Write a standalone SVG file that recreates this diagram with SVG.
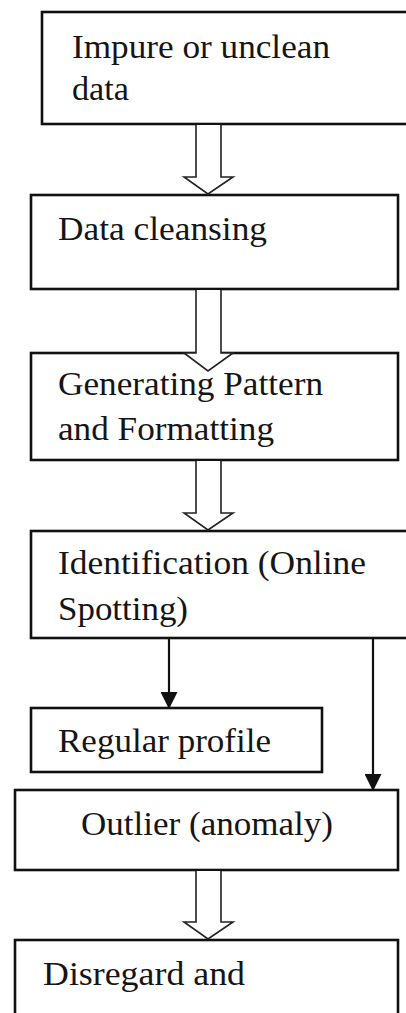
<svg xmlns="http://www.w3.org/2000/svg" width="406" height="1013" viewBox="0 0 406 1013">
<style>
.box{fill:#fff;stroke:#111;stroke-width:2.6}
.t{font-family:"Liberation Serif","Times New Roman","DejaVu Serif",serif;font-size:34px;fill:#151515}
.blk{fill:#fff;stroke:#222;stroke-width:1.6;stroke-linejoin:miter}
.ln{stroke:#111;stroke-width:2.2;fill:none}
</style>
<defs>
<marker id="tri" markerWidth="18" markerHeight="17" refX="17" refY="9" orient="auto" markerUnits="userSpaceOnUse" viewBox="0 0 18 18">
<path d="M0,0 L18,9 L0,18 Z" fill="#111"/>
</marker>
</defs>
<g id="n1"><rect class="box" x="42" y="12" width="370" height="112"/>
<text class="t" x="72" y="58" textLength="258" lengthAdjust="spacingAndGlyphs">Impure or unclean</text>
<text class="t" x="72" y="100" textLength="57" lengthAdjust="spacingAndGlyphs">data</text></g>
<g id="n2"><rect class="box" x="31" y="195" width="367" height="94"/>
<text class="t" x="58" y="240" textLength="209" lengthAdjust="spacingAndGlyphs">Data cleansing</text></g>
<g id="n3"><rect class="box" x="31" y="353" width="367" height="107"/>
<text class="t" x="58" y="395" textLength="265" lengthAdjust="spacingAndGlyphs">Generating Pattern</text>
<text class="t" x="58" y="440" textLength="216" lengthAdjust="spacingAndGlyphs">and Formatting</text></g>
<g id="n4"><rect class="box" x="31" y="531" width="381" height="107"/>
<text class="t" x="58" y="574" textLength="308" lengthAdjust="spacingAndGlyphs">Identification (Online</text>
<text class="t" x="58" y="620" textLength="130" lengthAdjust="spacingAndGlyphs">Spotting)</text></g>
<g id="n5"><rect class="box" x="31" y="708" width="291" height="64"/>
<text class="t" x="58" y="752" textLength="213" lengthAdjust="spacingAndGlyphs">Regular profile</text></g>
<g id="n6"><rect class="box" x="15" y="790" width="383" height="80"/>
<text class="t" x="81" y="835" textLength="252" lengthAdjust="spacingAndGlyphs">Outlier (anomaly)</text></g>
<g id="n7"><rect class="box" x="15" y="940" width="383" height="80"/>
<text class="t" x="43" y="985" textLength="202" lengthAdjust="spacingAndGlyphs">Disregard and</text></g>
<g id="connectors">
<path class="blk" d="M196,125 L196,177 L184,177 L208,194 L233,177 L221,177 L221,125"/>
<path class="blk" d="M196,290 L196,353 L184,353 L208,371 L233,353 L221,353 L221,290"/>
<path class="blk" d="M196,461 L196,513 L184,513 L208,530 L233,513 L221,513 L221,461"/>
<path class="blk" d="M196,871 L196,922 L184,922 L208,939 L233,922 L221,922 L221,871"/>
<line class="ln" x1="169" y1="639" x2="169" y2="708" marker-end="url(#tri)"/>
<line class="ln" x1="373" y1="639" x2="373" y2="790" marker-end="url(#tri)"/>
</g>
</svg>
